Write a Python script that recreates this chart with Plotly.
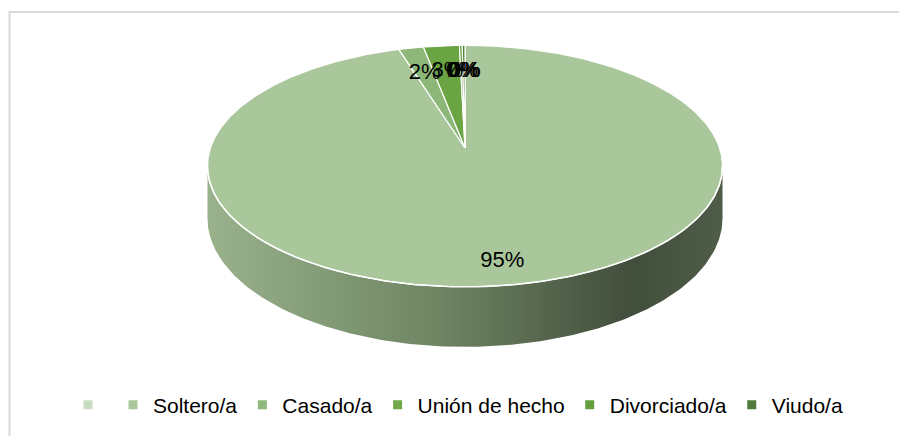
import math
import plotly.graph_objects as go

# ---- data ----
categories = ["", "Soltero/a", "Casado/a", "Unión de hecho", "Divorciado/a", "Viudo/a"]
values = [0, 476, 9, 13, 1, 1]
face_colors = ["#c8dcc0", "#a9c79b", "#8cb779", "#6aa443", "#5e9639", "#4d7a34"]
legend_colors = ["#c8dcc0", "#a9c79b", "#8dba7a", "#70a84a", "#64a040", "#4f7c3a"]

# ---- geometry (layout/style) ----
W, H = 907, 436
OFF = 8  # page body margin of the browser
cx, cy0 = 465, 148
a, b, k = 254.6, 118, 0.15
depth = 51

def proj(theta_deg, r=1.0):
    t = math.radians(theta_deg)
    c, s = math.cos(t), math.sin(t)
    sc = 1.0 / (1.0 + k * r * c)
    return cx + a * r * s * sc, cy0 - b * r * c * sc

def side_drop(theta_deg):
    t = math.radians(theta_deg)
    return depth / (1.0 + k * math.cos(t))

total = sum(values)
fig = go.Figure()

# side (front visible part of the cylinder)
t_right = math.degrees(math.acos(-k))
t_left = 360 - t_right
n = 200
ts = [t_right + (t_left - t_right) * i / n for i in range(n + 1)]
top = [proj(t) for t in ts]
bot = [(x, y + side_drop(t)) for (x, y), t in zip(top, ts)]
sx = [p[0] for p in top] + [p[0] for p in reversed(bot)] + [top[0][0]]
sy = [p[1] for p in top] + [p[1] for p in reversed(bot)] + [top[0][1]]
fig.add_trace(go.Scatter(
    x=sx, y=sy, mode="lines", fill="toself",
    line=dict(width=0, color="rgba(0,0,0,0)"),
    fillgradient=dict(type="horizontal", colorscale=[
        [0.0, "#99b28c"], [0.45, "#6e8463"], [0.82, "#424e3c"], [1.0, "#4e5c48"]]),
    hoverinfo="skip", showlegend=False))

# top face slices
start = 0.0
label_x, label_y, label_t = [], [], []
for cat, v, col in zip(categories, values, face_colors):
    span = 360.0 * v / total
    end = start + span
    if v > 0:
        m = max(4, int(span / 0.5))
        arc = [proj(start + span * i / m) for i in range(m + 1)]
        px = [cx] + [p[0] for p in arc] + [cx]
        py = [cy0] + [p[1] for p in arc] + [cy0]
        fig.add_trace(go.Scatter(
            x=px, y=py, mode="lines", fill="toself", fillcolor=col,
            line=dict(color="white", width=1.2),
            hoverinfo="skip", showlegend=False))
    mid = start + span / 2
    lr = 0.85 if v / total > 0.5 else 0.72
    lx, ly = proj(mid, lr)
    label_x.append(lx)
    label_y.append(ly)
    label_t.append(f"{round(v / total * 100):.0f}%")
    start = end

# white rim along the front edge
rt = [t_right + (t_left - t_right) * i / n for i in range(n + 1)]
rim = [proj(t) for t in rt]
fig.add_trace(go.Scatter(
    x=[p[0] for p in rim], y=[p[1] for p in rim], mode="lines",
    line=dict(color="white", width=1.5), hoverinfo="skip", showlegend=False))

# labels
fig.add_trace(go.Scatter(
    x=label_x, y=label_y, mode="text", text=label_t,
    textfont=dict(size=22, color="#000000", family="Liberation Sans, Arial"),
    hoverinfo="skip", showlegend=False))

# legend entries
for cat, col in zip(categories, legend_colors):
    fig.add_trace(go.Scatter(
        x=[None], y=[None], mode="markers", name=cat,
        marker=dict(symbol="square", size=9, color=col),
        showlegend=True))

fig.add_shape(type="rect", xref="x", yref="y", x0=9.5, y0=12, x1=925, y1=450,
              line=dict(color="#d9d9d9", width=2), fillcolor="rgba(0,0,0,0)")

fig.update_layout(
    width=W, height=H,
    margin=dict(l=0, r=0, t=0, b=0),
    paper_bgcolor="white", plot_bgcolor="white",
    xaxis=dict(range=[OFF, W + OFF], visible=False, fixedrange=True),
    yaxis=dict(range=[H + OFF, OFF], visible=False, fixedrange=True),
    legend=dict(orientation="h", x=(458 - OFF) / W, xanchor="center",
                y=1 - (405 - OFF) / H, yanchor="middle",
                font=dict(size=21, color="#000000", family="Liberation Sans, Arial"),
                bgcolor="rgba(0,0,0,0)", itemwidth=30),
    showlegend=True,
)

fig.write_html("out.html")
